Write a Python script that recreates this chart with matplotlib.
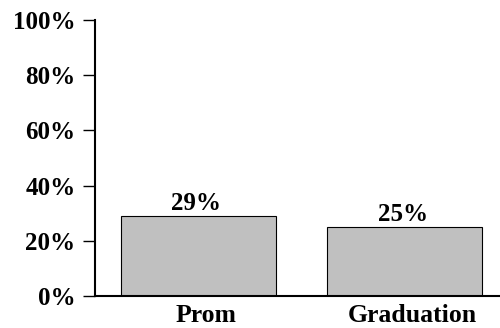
import matplotlib.pyplot as plt
from matplotlib.transforms import ScaledTranslation

categories = ['Prom', 'Graduation']
values = [29, 25]
yticks = [0, 20, 40, 60, 80, 100]

plt.rcParams['font.family'] = ['Liberation Serif', 'DejaVu Serif']
plt.rcParams['font.weight'] = 'bold'

fig = plt.figure(figsize=(5, 3.28), dpi=100, facecolor='w')
ax = fig.add_axes([0.19, 0.0976, 0.826, 0.841])

x = range(len(categories))
bars = ax.bar(x, values, width=0.75, color='#C0C0C0', edgecolor='black', linewidth=0.8)

# value labels sit just above each bar
for b, v in zip(bars, values):
    ax.text(b.get_x() + b.get_width() / 2 - 0.01, v + 2.2, f'{v}%', ha='center', va='baseline',
            fontsize=18, fontweight='bold')

ax.set_xlim(-0.5, 1.5)
ax.set_ylim(0, 100)
ax.set_yticks(yticks)
ax.set_yticklabels([f'{t}%' for t in yticks])
ax.set_xticks(list(x))
ax.set_xticklabels(categories)

for s in ['top', 'right']:
    ax.spines[s].set_visible(False)
for s in ['left', 'bottom']:
    ax.spines[s].set_linewidth(1.5)

ax.tick_params(axis='y', length=9, width=1, pad=5, labelsize=18)
ax.tick_params(axis='x', length=0, pad=6, labelsize=18.5)

# category names sit a little right of the bar centres
shift = ScaledTranslation(8 / 100, 0, fig.dpi_scale_trans)
for lbl in ax.get_xticklabels():
    lbl.set_transform(lbl.get_transform() + shift)

fig.savefig('out.png', dpi=100)
